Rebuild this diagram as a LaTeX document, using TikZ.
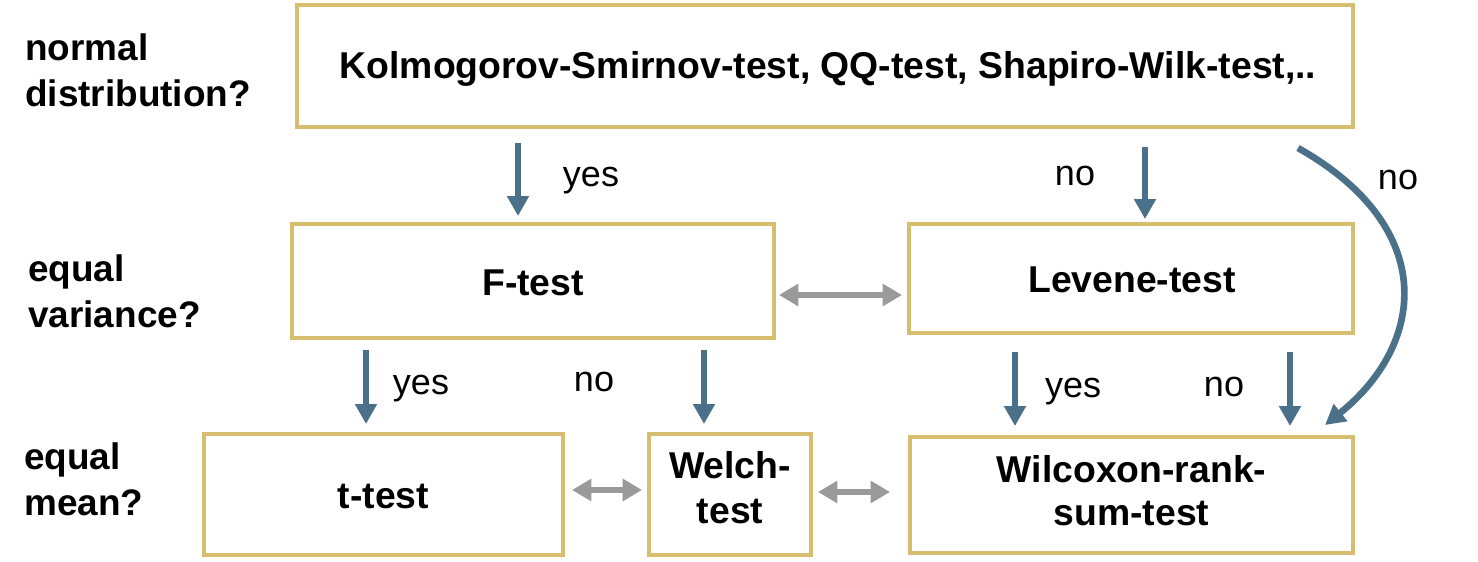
\documentclass[tikz,border=0pt]{standalone}
\usepackage{fontspec}
\setmainfont{Liberation Sans}
\usetikzlibrary{arrows.meta}
\definecolor{tan}{HTML}{D7BD6E}
\definecolor{steel}{HTML}{4A7189}
\definecolor{grayarr}{HTML}{9A9A9A}
\begin{document}
\begin{tikzpicture}[x=0.75pt,y=-0.75pt,
  box/.style={draw=tan,line width=3pt,fill=white,align=center,font=\fontsize{28}{34}\selectfont\bfseries,inner sep=0pt},
  lbl/.style={anchor=west,align=left,font=\fontsize{27.7}{34.5}\selectfont\bfseries,inner sep=0pt},
  ans/.style={font=\fontsize{27}{32}\selectfont,inner sep=0pt},
  blue/.style={draw=steel,line width=5pt,-{Triangle[width=15.75pt,length=15pt]}},
  twoway/.style={draw=grayarr,line width=4.5pt,{Triangle[width=16pt,length=14.5pt]}-{Triangle[width=16pt,length=14.5pt]}}]
\useasboundingbox (0,0) rectangle (1478,561);
% boxes
\node[box,minimum width=792pt,minimum height=91.5pt] (top) at (825,66) {};
\node[box,minimum width=361.5pt,minimum height=85.5pt] (F) at (533,281) {};
\node[box,minimum width=333pt,minimum height=81.75pt] (lev) at (1131,278.5) {};
\node[box,minimum width=269.25pt,minimum height=90.75pt] (t) at (383.5,494.5) {};
\node[box,minimum width=121.5pt,minimum height=90.75pt] (welch) at (730,494.5) {};
\node[box,minimum width=332.25pt,minimum height=87pt] (wil) at (1131.5,495) {};
% box texts
\node[box,draw=none,fill=none] (topt) at (828,69) {Kolmogorov-Smirnov-test, QQ-test, Shapiro-Wilk-test,..};
\node[box,draw=none,fill=none] (Ft) at (533,283) {F-test};
\node[box,draw=none,fill=none] (levt) at (1132,280) {Levene-test};
\node[box,draw=none,fill=none] (tt) at (383.5,496) {t-test};
\node[box,draw=none,fill=none,font=\fontsize{28}{33.75}\selectfont\bfseries] (welcht) at (730,488) {Welch-\\test};
\node[box,draw=none,fill=none,font=\fontsize{28}{32.25}\selectfont\bfseries] (wilt) at (1131.5,491) {Wilcoxon-rank-\\sum-test};
% left labels
\node[lbl] (q1) at (25,70) {normal\\distribution?};
\node[lbl] (q2) at (28,291) {equal\\variance?};
\node[lbl] (q3) at (24,479) {equal\\mean?};
% arrow end points
\coordinate (a1s) at (518,143); \coordinate (a1e) at (518,216);
\coordinate (a2s) at (1145,147); \coordinate (a2e) at (1145,219);
\coordinate (a3s) at (366,350); \coordinate (a3e) at (366,424);
\coordinate (a4s) at (704,350); \coordinate (a4e) at (704,424);
\coordinate (a5s) at (1015,352); \coordinate (a5e) at (1015,426);
\coordinate (a6s) at (1290,352); \coordinate (a6e) at (1290,426);
\coordinate (cs) at (1298,148); \coordinate (ce) at (1325,425);
\draw[blue] (a1s) -- (a1e);
\draw[blue] (a2s) -- (a2e);
\draw[blue] (a3s) -- (a3e);
\draw[blue] (a4s) -- (a4e);
\draw[blue] (a5s) -- (a5e);
\draw[blue] (a6s) -- (a6e);
\draw[blue] (cs) .. controls (1440,228) and (1425,345) .. (ce);
% answers
\node[ans] (y1) at (591,181) {yes};
\node[ans] (n1) at (1075,176) {no};
\node[ans] (n2) at (1398,180) {no};
\node[ans] (y2) at (421,389) {yes};
\node[ans] (n3) at (594,382) {no};
\node[ans] (y3) at (1073,392) {yes};
\node[ans] (n4) at (1224,387) {no};
% double arrows
\coordinate (d1s) at (779,295); \coordinate (d1e) at (902,295);
\coordinate (d2s) at (572,490); \coordinate (d2e) at (642,490);
\coordinate (d3s) at (818,492); \coordinate (d3e) at (890,492);
\draw[twoway] (d1s) -- (d1e);
\draw[twoway] (d2s) -- (d2e);
\draw[twoway] (d3s) -- (d3e);
\end{tikzpicture}
\end{document}
